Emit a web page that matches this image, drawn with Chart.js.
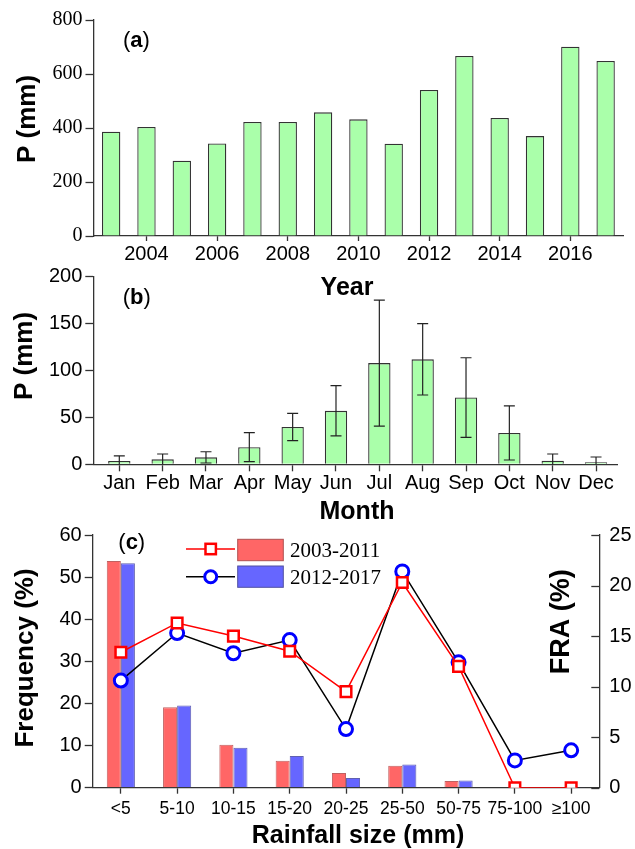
<!DOCTYPE html>
<html>
<head>
<meta charset="utf-8">
<script src="https://cdn.jsdelivr.net/npm/chart.js@4.4.0/dist/chart.umd.min.js"></script>
<style>
  html, body { margin: 0; padding: 0; background: #fff; }
  #wrap { position: relative; width: 635px; height: 849px; overflow: hidden; background: #fff; }
  #wrap canvas { position: absolute; left: 0; top: 0; }
</style>
</head>
<body>
<div id="wrap">
  <canvas id="panelA" width="635" height="849"></canvas>
  <canvas id="panelB" width="635" height="849"></canvas>
  <canvas id="panelC" width="635" height="849"></canvas>
</div>
<script>
// ---- (a) annual precipitation ----
const years = [2003, 2004, 2005, 2006, 2007, 2008, 2009, 2010, 2011, 2012, 2013, 2014, 2015, 2016, 2017];
const annualP = [386, 404, 279, 343, 422, 422, 458, 432, 342, 541, 667, 437, 370, 701, 648];

// ---- (b) monthly mean precipitation with standard deviation ----
const months = ['Jan', 'Feb', 'Mar', 'Apr', 'May', 'Jun', 'Jul', 'Aug', 'Sep', 'Oct', 'Nov', 'Dec'];
const monthlyP = [3.5, 5.3, 7.4, 18.3, 39.8, 57.0, 107.9, 111.9, 71.2, 33.4, 3.9, 2.1];
const monthlySD = [5.5, 5.7, 6.0, 15.4, 14.5, 26.8, 67.1, 38.0, 42.4, 28.8, 7.1, 5.7];

// ---- (c) rainfall size classes ----
const sizeClasses = ['<5', '5-10', '10-15', '15-20', '20-25', '25-50', '50-75', '75-100', '\u2265100'];
const periods = ['2003-2011', '2012-2017'];
const freqEarly = [53.8, 19.1, 10.2, 6.4, 3.5, 5.2, 1.6, 0, 0];
const freqLate = [53.3, 19.5, 9.5, 7.5, 2.3, 5.5, 1.7, 0.15, 0.15];
const fraEarly = [13.4, 16.3, 15.0, 13.5, 9.5, 20.3, 12.0, 0, 0];
const fraLate = [10.6, 15.3, 13.3, 14.6, 5.8, 21.4, 12.4, 2.7, 3.7];

const SANS = "'Liberation Sans', Arial, sans-serif";
const SERIF = "'Liberation Serif', 'Times New Roman', serif";
const AXIS = '#333333';
const GREEN = '#AAFFAA';
const RED_BAR = '#FF6666';
const BLUE_BAR = '#6666FF';

Chart.defaults.font.family = SANS;
Chart.defaults.color = '#000';

const H = 849;

function axisGrid(tickLen) {
  return { display: true, drawOnChartArea: false, drawTicks: true, tickLength: tickLen,
           tickColor: AXIS, tickWidth: 1.3, offset: false };
}
const axisBorder = { display: true, color: AXIS, width: 1.3 };

// text helpers
function hText(ctx, txt, x, y, font, align) {
  ctx.save();
  ctx.font = font; ctx.fillStyle = '#000';
  ctx.textAlign = align || 'center'; ctx.textBaseline = 'alphabetic';
  ctx.fillText(txt, x, y);
  ctx.restore();
}
function vText(ctx, txt, baseX, centerY, font) {
  ctx.save();
  ctx.font = font; ctx.fillStyle = '#000';
  ctx.translate(baseX, centerY);
  ctx.rotate(-Math.PI / 2);
  ctx.textAlign = 'center'; ctx.textBaseline = 'alphabetic';
  ctx.fillText(txt, 0, 0);
  ctx.restore();
}
function panelTag(ctx, letter, x, y) {
  ctx.save();
  ctx.fillStyle = '#000'; ctx.textBaseline = 'alphabetic'; ctx.textAlign = 'left';
  const normal = '22px ' + SANS, bold = 'bold 22px ' + SANS;
  ctx.font = normal; ctx.fillText('(', x, y); x += ctx.measureText('(').width;
  ctx.font = bold; ctx.fillText(letter, x, y); x += ctx.measureText(letter).width;
  ctx.font = normal; ctx.fillText(')', x, y);
  ctx.restore();
}

// ================= (a) =================
new Chart(document.getElementById('panelA'), {
  type: 'bar',
  data: {
    datasets: [{
      data: years.map((yr, i) => ({ x: yr, y: annualP[i] })),
      backgroundColor: GREEN, borderColor: AXIS, borderWidth: 1.3,
      barPercentage: 0.52, categoryPercentage: 1
    }]
  },
  options: {
    responsive: false, animation: false, events: [],
    layout: { padding: { left: 0, top: 20, right: 11.7, bottom: 0 } },
    plugins: { legend: { display: false }, tooltip: { enabled: false } },
    scales: {
      x: {
        type: 'linear', min: 2002.5, max: 2017.5, offset: false,
        afterFit: s => { s.height = H - 236; },
        grid: axisGrid(5), border: axisBorder,
        ticks: { stepSize: 2, includeBounds: false, autoSkip: false, maxRotation: 0,
                 padding: 1, font: { size: 20 }, callback: v => String(v) }
      },
      y: {
        min: 0, max: 800,
        afterFit: s => { s.width = 93.5; },
        grid: axisGrid(8), border: axisBorder,
        ticks: { stepSize: 200, padding: 3, font: { family: SERIF, size: 20 } }
      }
    }
  },
  plugins: [{
    id: 'labelsA',
    afterDraw(chart) {
      const ctx = chart.ctx;
      vText(ctx, 'P (mm)', 35, 119, 'bold 26px ' + SANS);
      hText(ctx, 'Year', 347, 295, 'bold 25px ' + SANS);
      panelTag(ctx, 'a', 123, 47);
    }
  }]
});

// ================= (b) =================
const errorBars = {
  id: 'errorBars',
  afterDatasetsDraw(chart) {
    const ctx = chart.ctx, area = chart.chartArea;
    const yS = chart.scales.y;
    const meta = chart.getDatasetMeta(0);
    ctx.save();
    ctx.beginPath();
    ctx.rect(area.left, area.top, area.right - area.left, area.bottom - area.top);
    ctx.clip();
    ctx.strokeStyle = '#222'; ctx.lineWidth = 1.2;
    const cap = 5.5;
    meta.data.forEach((bar, i) => {
      const x = bar.x;
      const yHi = yS.getPixelForValue(monthlyP[i] + monthlySD[i]);
      const yLo = yS.getPixelForValue(monthlyP[i] - monthlySD[i]);
      ctx.beginPath();
      ctx.moveTo(x, yHi); ctx.lineTo(x, yLo);
      ctx.moveTo(x - cap, yHi); ctx.lineTo(x + cap, yHi);
      if (monthlyP[i] - monthlySD[i] > 0) { ctx.moveTo(x - cap, yLo); ctx.lineTo(x + cap, yLo); }
      ctx.stroke();
    });
    ctx.restore();
  }
};

new Chart(document.getElementById('panelB'), {
  type: 'bar',
  data: {
    datasets: [{
      data: months.map((m, i) => ({ x: i + 1, y: monthlyP[i] })),
      backgroundColor: GREEN, borderColor: AXIS, borderWidth: 1.3,
      barPercentage: 0.515, categoryPercentage: 1
    }]
  },
  options: {
    responsive: false, animation: false, events: [],
    layout: { padding: { left: 0, top: 276.7, right: 17.3, bottom: 0 } },
    plugins: { legend: { display: false }, tooltip: { enabled: false } },
    scales: {
      x: {
        type: 'linear', min: 0.4, max: 12.5, offset: false,
        afterFit: s => { s.height = H - 464.3; },
        grid: axisGrid(7), border: axisBorder,
        ticks: { stepSize: 1, includeBounds: false, autoSkip: false, maxRotation: 0,
                 padding: 0, font: { size: 20 }, callback: v => months[v - 1] }
      },
      y: {
        min: 0, max: 200,
        afterFit: s => { s.width = 93.3; },
        grid: axisGrid(8), border: axisBorder,
        ticks: { stepSize: 50, padding: 3, font: { size: 20 } }
      }
    }
  },
  plugins: [errorBars, {
    id: 'labelsB',
    afterDraw(chart) {
      const ctx = chart.ctx;
      vText(ctx, 'P (mm)', 32, 356, 'bold 26px ' + SANS);
      hText(ctx, 'Month', 357, 519, 'bold 25px ' + SANS);
      panelTag(ctx, 'b', 122.7, 304);
    }
  }]
});

// ================= (c) =================
const innerRightTicks = {
  id: 'innerRightTicks',
  afterDraw(chart) {
    const s = chart.scales.y1, ctx = chart.ctx;
    ctx.save();
    ctx.strokeStyle = AXIS; ctx.lineWidth = 1.3;
    s.ticks.forEach((t, i) => {
      const y = Math.round(s.getPixelForTick(i)) + 0.5;
      ctx.beginPath(); ctx.moveTo(s.left - 8, y); ctx.lineTo(s.left, y); ctx.stroke();
    });
    ctx.restore();
  }
};

const legendC = {
  id: 'legendC',
  afterDraw(chart) {
    const ctx = chart.ctx;
    const rows = [
      { y: 549, line: '#FF0000', marker: 'rect', mColor: '#FF0000', fill: RED_BAR, edge: '#B05050', top: 539.3, bot: 560.7, base: 557.3 },
      { y: 576.7, line: '#000000', marker: 'circle', mColor: '#0000FF', fill: BLUE_BAR, edge: '#5050A0', top: 566, bot: 587.3, base: 584.3 }
    ];
    rows.forEach((r, i) => {
      ctx.save();
      ctx.strokeStyle = r.line; ctx.lineWidth = 1.5;
      ctx.beginPath(); ctx.moveTo(186, r.y); ctx.lineTo(235, r.y); ctx.stroke();
      ctx.fillStyle = '#fff'; ctx.strokeStyle = r.mColor;
      if (r.marker === 'rect') {
        ctx.lineWidth = 2.5;
        ctx.fillRect(210.7 - 5.2, r.y - 5.2, 10.4, 10.4);
        ctx.strokeRect(210.7 - 5.2, r.y - 5.2, 10.4, 10.4);
      } else {
        ctx.lineWidth = 3;
        ctx.beginPath(); ctx.arc(210.7, r.y, 6, 0, Math.PI * 2); ctx.fill(); ctx.stroke();
      }
      ctx.fillStyle = r.fill; ctx.strokeStyle = r.edge; ctx.lineWidth = 1;
      ctx.fillRect(237.7, r.top, 45.6, r.bot - r.top);
      ctx.strokeRect(237.7, r.top, 45.6, r.bot - r.top);
      ctx.restore();
      hText(ctx, periods[i], 290, r.base, '21px ' + SERIF, 'left');
    });
  }
};

new Chart(document.getElementById('panelC'), {
  type: 'bar',
  data: {
    labels: sizeClasses,
    datasets: [
      { type: 'line', label: periods[0], data: fraEarly, yAxisID: 'y1', order: 0,
        borderColor: '#FF0000', borderWidth: 1.5, tension: 0, clip: 0,
        pointStyle: 'rect', pointRadius: 7.5, pointBorderWidth: 2.5,
        pointBorderColor: '#FF0000', pointBackgroundColor: '#FFFFFF' },
      { type: 'line', label: periods[1], data: fraLate, yAxisID: 'y1', order: 1,
        borderColor: '#000000', borderWidth: 1.5, tension: 0, clip: 0,
        pointStyle: 'circle', pointRadius: 6.5, pointBorderWidth: 3,
        pointBorderColor: '#0000FF', pointBackgroundColor: '#FFFFFF' },
      { type: 'bar', label: periods[0], data: freqEarly, yAxisID: 'y', order: 2,
        backgroundColor: RED_BAR, borderColor: '#C06060', borderWidth: 1,
        categoryPercentage: 0.5, barPercentage: 1 },
      { type: 'bar', label: periods[1], data: freqLate, yAxisID: 'y', order: 3,
        backgroundColor: BLUE_BAR, borderColor: '#6060B0', borderWidth: 1,
        categoryPercentage: 0.5, barPercentage: 1 }
    ]
  },
  options: {
    responsive: false, animation: false, events: [],
    layout: { padding: { left: 0, top: 535, right: 0, bottom: 0 } },
    plugins: { legend: { display: false }, tooltip: { enabled: false } },
    scales: {
      x: {
        type: 'category', offset: true,
        afterFit: s => { s.height = H - 787.7; },
        grid: axisGrid(6), border: axisBorder,
        ticks: { autoSkip: false, maxRotation: 0, padding: 5, font: { size: 17.5 } }
      },
      y: {
        position: 'left', min: 0, max: 60,
        afterFit: s => { s.width = 92.7; },
        grid: axisGrid(8), border: axisBorder,
        ticks: { stepSize: 10, padding: 3, font: { size: 20 } }
      },
      y1: {
        position: 'right', min: 0, max: 25,
        afterFit: s => { s.width = 635 - 599.3; },
        grid: { display: true, drawOnChartArea: false, drawTicks: false },
        border: axisBorder,
        ticks: { stepSize: 5, padding: 10, font: { size: 20 } }
      }
    }
  },
  plugins: [innerRightTicks, legendC, {
    id: 'labelsC',
    afterDraw(chart) {
      const ctx = chart.ctx;
      vText(ctx, 'Frequency (%)', 33.3, 658, 'bold 26px ' + SANS);
      vText(ctx, 'FRA (%)', 569.3, 621.7, 'bold 27px ' + SANS);
      hText(ctx, 'Rainfall size (mm)', 358, 843, 'bold 25px ' + SANS);
      panelTag(ctx, 'c', 118.3, 549);
    }
  }]
});
</script>
</body>
</html>
